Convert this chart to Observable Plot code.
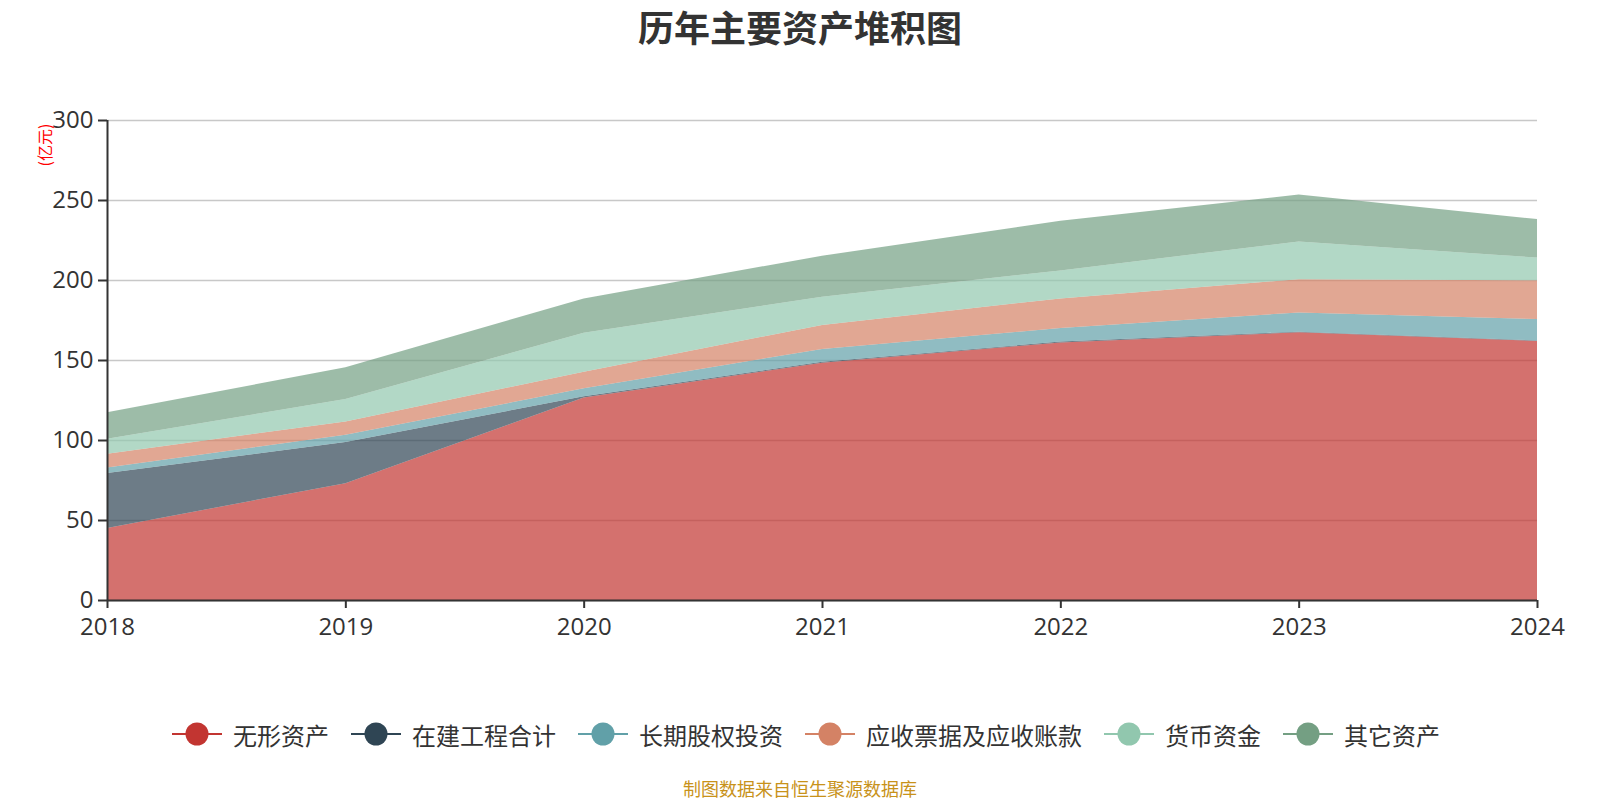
<!DOCTYPE html>
<html>
<head>
<meta charset="utf-8">
<script src="https://cdn.jsdelivr.net/npm/d3@7"></script>
<script src="https://cdn.jsdelivr.net/npm/@observablehq/plot@0.6"></script>
<style>
  html, body { margin: 0; padding: 0; background: #fff; }
  body { width: 1600px; height: 800px; overflow: hidden; font-family: "Open Sans", "Noto Sans CJK SC", sans-serif; }
  #title { height: 60px; line-height: 52px; text-align: center; font-size: 36px; font-weight: bold; color: #333; font-family: "Noto Sans CJK SC", sans-serif; }
  #legend { height: 68px; display: flex; justify-content: center; align-items: center; gap: 22px; font-size: 24px; color: #333; padding-left: 12px; padding-top: 0px; box-sizing: border-box; font-family: "Noto Sans CJK SC", sans-serif; }
  .item { display: flex; align-items: center; gap: 11px; }
  #caption { height: 32px; display: flex; align-items: center; justify-content: center; font-size: 18px; color: #c8921a; font-family: "Noto Sans CJK SC", sans-serif; padding-top: 8px; box-sizing: border-box; }
</style>
</head>
<body>
<div id="title">历年主要资产堆积图</div>
<div id="chart"></div>
<div id="legend"></div>
<div id="caption">制图数据来自恒生聚源数据库</div>
<script>
const years = [2018, 2019, 2020, 2021, 2022, 2023, 2024];
const seriesNames = ["无形资产", "在建工程合计", "长期股权投资", "应收票据及应收账款", "货币资金", "其它资产"];
const seriesColors = ["#c23531", "#2f4554", "#61a0a8", "#d48265", "#91c7ae", "#749f83"];
const intangible   = [45.0, 73.0, 126.5, 148.3, 161.0, 167.3, 161.9];
const construction = [34.3, 25.7, 0.8, 0.6, 0.5, 0.4, 0.3];
const equityInv    = [3.5, 4.6, 5.0, 8.0, 8.5, 12.0, 13.4];
const receivables  = [8.6, 8.3, 10.4, 15.0, 18.5, 20.8, 24.2];
const cash         = [9.4, 14.0, 24.3, 17.7, 17.5, 23.6, 14.2];
const other        = [16.5, 19.8, 21.5, 25.6, 31.0, 29.3, 24.1];
const yTicks = [0, 50, 100, 150, 200, 250, 300];

const seriesValues = [intangible, construction, equityInv, receivables, cash, other];
const data = [];
seriesNames.forEach((name, i) => {
  years.forEach((yr, j) => data.push({year: yr, series: name, value: seriesValues[i][j]}));
});

const plot = Plot.plot({
  width: 1600,
  height: 640,
  marginTop: 60,
  marginBottom: 100,
  marginLeft: 107,
  marginRight: 63,
  style: {fontFamily: '"Open Sans", "Noto Sans CJK SC", sans-serif', fontSize: "24px", color: "#333", background: "#fff"},
  x: {domain: [2018, 2024], ticks: years, tickFormat: d3.format("d")},
  y: {domain: [0, 300], ticks: yTicks},
  color: {domain: seriesNames, range: seriesColors},
  marks: [
    Plot.gridY(yTicks, {stroke: "#c8c8c8", strokeOpacity: 1, strokeWidth: 1.3}),
    Plot.areaY(data, {x: "year", y: "value", fill: "series", z: "series", order: seriesNames, fillOpacity: 0.7}),
    Plot.ruleX([2018], {stroke: "#333", strokeWidth: 2}),
    Plot.ruleY([0], {stroke: "#333", strokeWidth: 2}),
    Plot.axisY(yTicks, {tickSize: 9, tickPadding: 5, fontSize: 24, label: null, stroke: "#333", strokeWidth: 2, fill: "#333"}),
    Plot.axisX(years, {tickSize: 8, tickPadding: 9, fontSize: 24, label: null, stroke: "#333", strokeWidth: 2, fill: "#333", tickFormat: d3.format("d")})
  ]
});
document.getElementById("chart").appendChild(plot);

d3.select(plot).append("text")
  .attr("transform", "translate(51,85) rotate(-90)")
  .attr("text-anchor", "middle")
  .attr("font-size", 16)
  .attr("font-family", '"Noto Sans CJK SC", sans-serif')
  .attr("fill", "red")
  .text("(亿元)");

const legend = d3.select("#legend");
seriesNames.forEach((name, i) => {
  const item = legend.append("div").attr("class", "item");
  const svg = item.append("svg").attr("width", 50).attr("height", 26);
  svg.append("line").attr("x1", 0).attr("x2", 50).attr("y1", 13).attr("y2", 13).attr("stroke", seriesColors[i]).attr("stroke-width", 2);
  svg.append("circle").attr("cx", 25).attr("cy", 13).attr("r", 11.5).attr("fill", seriesColors[i]);
  item.append("span").text(name);
});
</script>
</body>
</html>
